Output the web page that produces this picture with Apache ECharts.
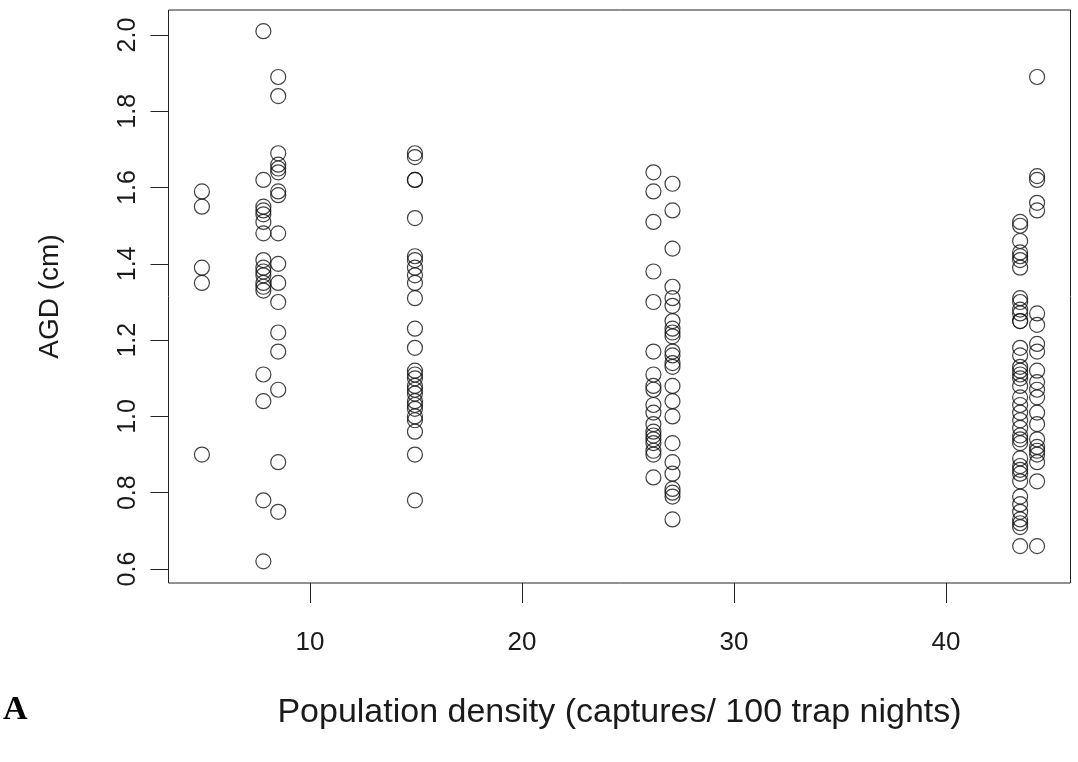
<!DOCTYPE html>
<html>
<head>
<meta charset="utf-8">
<script src="https://cdn.jsdelivr.net/npm/echarts@6/dist/echarts.min.js"></script>
<style>
  html, body { margin: 0; padding: 0; background: #fff; }
  #main { width: 1078px; height: 762px; }
</style>
</head>
<body>
<div id="main"></div>
<script>
// population density of each trapping site (x)
var densities = [4.9, 7.8, 8.5, 14.95, 26.2, 27.1, 43.5, 44.3];

// AGD (cm) measured at each site
var agd_4_9 = [1.59, 1.55, 1.39, 1.35, 0.90];
var agd_7_8 = [2.01, 1.62, 1.55, 1.54, 1.53, 1.51, 1.48, 1.41, 1.39, 1.38, 1.37, 1.35, 1.34, 1.33, 1.11, 1.04, 0.78, 0.62];
var agd_8_5 = [1.89, 1.84, 1.69, 1.66, 1.65, 1.64, 1.59, 1.58, 1.48, 1.40, 1.35, 1.30, 1.22, 1.17, 1.07, 0.88, 0.75];
var agd_15 = [1.69, 1.68, 1.62, 1.62, 1.52, 1.42, 1.41, 1.39, 1.37, 1.35, 1.31, 1.23, 1.18, 1.12, 1.11, 1.10, 1.08, 1.07, 1.06, 1.04, 1.03, 1.02, 1.00, 0.99, 0.96, 0.90, 0.78];
var agd_26_2 = [1.64, 1.59, 1.51, 1.38, 1.30, 1.17, 1.11, 1.08, 1.07, 1.03, 1.01, 0.98, 0.96, 0.95, 0.94, 0.93, 0.91, 0.90, 0.84];
var agd_27_1 = [1.61, 1.54, 1.44, 1.34, 1.31, 1.29, 1.25, 1.23, 1.22, 1.21, 1.17, 1.16, 1.14, 1.13, 1.08, 1.04, 1.00, 0.93, 0.88, 0.85, 0.81, 0.80, 0.79, 0.73];
var agd_43_5 = [1.51, 1.50, 1.46, 1.43, 1.42, 1.41, 1.39, 1.31, 1.30, 1.28, 1.27, 1.25, 1.25, 1.18, 1.16, 1.13, 1.12, 1.11, 1.10, 1.08, 1.05, 1.03, 1.01, 0.99, 0.97, 0.95, 0.94, 0.93, 0.89, 0.87, 0.86, 0.85, 0.83, 0.79, 0.77, 0.75, 0.73, 0.72, 0.71, 0.66];
var agd_44_3 = [1.89, 1.63, 1.62, 1.56, 1.54, 1.27, 1.24, 1.19, 1.17, 1.12, 1.09, 1.07, 1.05, 1.01, 0.98, 0.94, 0.92, 0.91, 0.90, 0.88, 0.83, 0.66];

var xTicks = [10, 20, 30, 40];
var yTicks = [0.6, 0.8, 1.0, 1.2, 1.4, 1.6, 1.8, 2.0];

function chart() {
	var chartDom = document.getElementById('main');
	var myChart = echarts.init(chartDom);
	var option;

	var groups = [agd_4_9, agd_7_8, agd_8_5, agd_15, agd_26_2, agd_27_1, agd_43_5, agd_44_3];
	var points = [];
	groups.forEach(function (vals, i) {
		vals.forEach(function (v) {
			points.push([densities[i], v]);
		});
	});

	var font = 'Liberation Sans, Arial, sans-serif';

	option = {
		animation: false,
		backgroundColor: '#fff',
		grid: {
			left: 168.5,
			right: 7.5,
			top: 10,
			bottom: 179,
			show: true,
			borderColor: '#222',
			borderWidth: 1
		},
		xAxis: {
			type: 'value',
			min: 3.324,
			max: 45.876,
			splitLine: { show: false },
			axisLine: { show: false },
			axisTick: {
				show: true,
				customValues: xTicks,
				length: 20,
				lineStyle: { color: '#222', width: 1 }
			},
			axisLabel: {
				customValues: xTicks,
				margin: 47,
				fontFamily: font,
				fontSize: 26,
				color: '#1a1a1a'
			},
			name: 'Population density (captures/ 100 trap nights)',
			nameLocation: 'middle',
			nameGap: 113,
			nameTextStyle: { fontFamily: font, fontSize: 34, color: '#1a1a1a' }
		},
		yAxis: {
			type: 'value',
			min: 0.5633,
			max: 2.0656,
			splitLine: { show: false },
			axisLine: { show: false },
			axisTick: {
				show: true,
				customValues: yTicks,
				length: 18,
				lineStyle: { color: '#222', width: 1 }
			},
			axisLabel: {
				customValues: yTicks,
				rotate: 90,
				margin: 28,
				fontFamily: font,
				fontSize: 25,
				color: '#1a1a1a',
				formatter: function (v) { return v.toFixed(1); }
			},
			name: 'AGD (cm)',
			nameLocation: 'middle',
			nameGap: 104,
			nameTextStyle: { fontFamily: font, fontSize: 28, color: '#1a1a1a' }
		},
		series: [
			{
				type: 'scatter',
				symbol: 'circle',
				symbolSize: 15,
				itemStyle: {
					color: 'rgba(0,0,0,0)',
					borderColor: '#111',
					borderWidth: 1.2
				},
				data: points
			}
		],
		graphic: [
			{
				type: 'text',
				left: 3,
				top: 693,
				style: {
					text: 'A',
					fontFamily: 'Liberation Serif, DejaVu Serif, serif',
					fontWeight: 'bold',
					fontSize: 34,
					fill: '#000'
				}
			}
		]
	};

	option && myChart.setOption(option);
}

chart();
</script>
</body>
</html>
